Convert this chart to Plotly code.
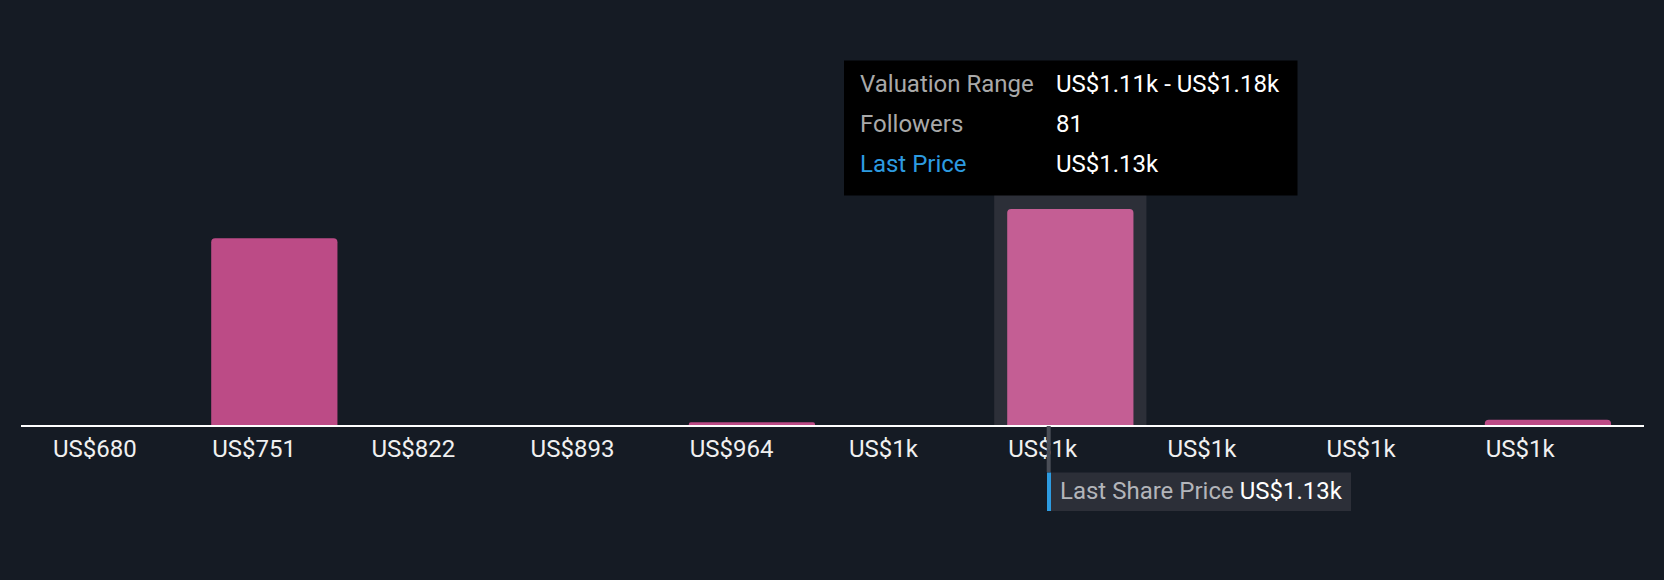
import plotly.graph_objects as go

# ---- data ----
bin_starts = [680, 751, 822, 893, 964, 1035, 1106, 1177, 1248, 1319]
tick_labels = ["US$680", "US$751", "US$822", "US$893", "US$964",
               "US$1k", "US$1k", "US$1k", "US$1k", "US$1k"]
followers = [0, 70, 0, 0, 1, 0, 81, 0, 0, 2]
bin_width = 71
highlight_index = 6
last_price = 1124.5
last_price_label = "US$1.13k"
tooltip_labels = ["Valuation Range", "Followers", "Last Price"]
tooltip_values = ["US$1.11k - US$1.18k", "81", "US$1.13k"]

# ---- style ----
BG = "#151b24"
BAR = "#bc4b86"
BAR_HI = "#c45e94"
HI_BG = "#2c2f38"
FONT = "Roboto"
FS = 24
W, H = 1664, 580
L, R, T, B = 21, 1644, 30, 425

def px(x):
    return (x - L) / (R - L)

def py(y):
    return (B - y) / (B - T)

bar_frac = 0.793
colors = [BAR_HI if i == highlight_index else BAR for i in range(len(followers))]

fig = go.Figure()
fig.add_trace(go.Bar(
    x=bin_starts, y=followers, width=bin_width * bar_frac, offset=0,
    marker=dict(color=colors, line=dict(width=0)),
    hoverinfo="skip",
))

x0 = bin_starts[0] - 31 / (159.2 / bin_width)
x1 = bin_starts[-1] + bin_width
ymax = max(followers) * (B - T) / 216

shapes = []
# highlight column
pad = 13 / (159.2 / bin_width)
hs = bin_starts[highlight_index]
shapes.append(dict(type="rect", xref="x", yref="paper",
                   x0=hs - pad, x1=hs + bin_width * bar_frac + pad,
                   y0=0, y1=py(195), fillcolor=HI_BG, line=dict(width=0), layer="below"))
# tooltip box
shapes.append(dict(type="rect", xref="paper", yref="paper",
                   x0=px(844), x1=px(1297.5), y0=py(195.5), y1=py(60.5),
                   fillcolor="#000000", line=dict(width=0), layer="above"))
# last price line
shapes.append(dict(type="line", xref="x", yref="paper",
                   x0=last_price, x1=last_price, y0=py(426), y1=py(472),
                   line=dict(color="#4a4e57", width=4), layer="above"))
# last price label box
shapes.append(dict(type="rect", xref="paper", yref="paper",
                   x0=px(1047), x1=px(1351), y0=py(511), y1=py(472.5),
                   fillcolor=HI_BG, line=dict(width=0), layer="above"))
shapes.append(dict(type="rect", xref="paper", yref="paper",
                   x0=px(1047), x1=px(1051), y0=py(511), y1=py(472.5),
                   fillcolor="#2d9be0", line=dict(width=0), layer="above"))

annotations = []
row_y = [84, 124, 164]
for i, (lab, val) in enumerate(zip(tooltip_labels, tooltip_values)):
    annotations.append(dict(xref="paper", yref="paper", x=px(858), y=py(row_y[i]),
                            xanchor="left", yanchor="middle", showarrow=False, text=lab,
                            font=dict(family=FONT, size=FS,
                                      color="#2d9be0" if lab == "Last Price" else "#a9a9a9")))
    annotations.append(dict(xref="paper", yref="paper", x=px(1054), y=py(row_y[i]),
                            xanchor="left", yanchor="middle", showarrow=False, text=val,
                            font=dict(family=FONT, size=FS, color="#ffffff")))
annotations.append(dict(xref="paper", yref="paper", x=px(1058), y=py(491),
                        xanchor="left", yanchor="middle", showarrow=False,
                        text="<span style='color:#b3b5ba'>Last Share Price</span> " + last_price_label,
                        font=dict(family=FONT, size=FS, color="#ffffff")))

fig.update_layout(
    width=W, height=H,
    margin=dict(l=L, r=W - R, t=T, b=H - B, pad=0),
    paper_bgcolor=BG, plot_bgcolor=BG,
    showlegend=False,
    barcornerradius=4,
    shapes=shapes, annotations=annotations,
    xaxis=dict(range=[x0, x1], showgrid=False, zeroline=False,
               showline=True, linecolor="#ffffff", linewidth=2,
               tickvals=bin_starts, ticktext=tick_labels,
               ticklabelposition="outside right", ticks="",
               ticklabelstandoff=1,
               tickfont=dict(family=FONT, size=FS, color="#f0f0f0")),
    yaxis=dict(range=[0, ymax], showgrid=False, zeroline=False,
               showticklabels=False, showline=False),
)

fig.write_html("out.html", config={"displayModeBar": False},
               post_script="document.body.style.margin='0';")
